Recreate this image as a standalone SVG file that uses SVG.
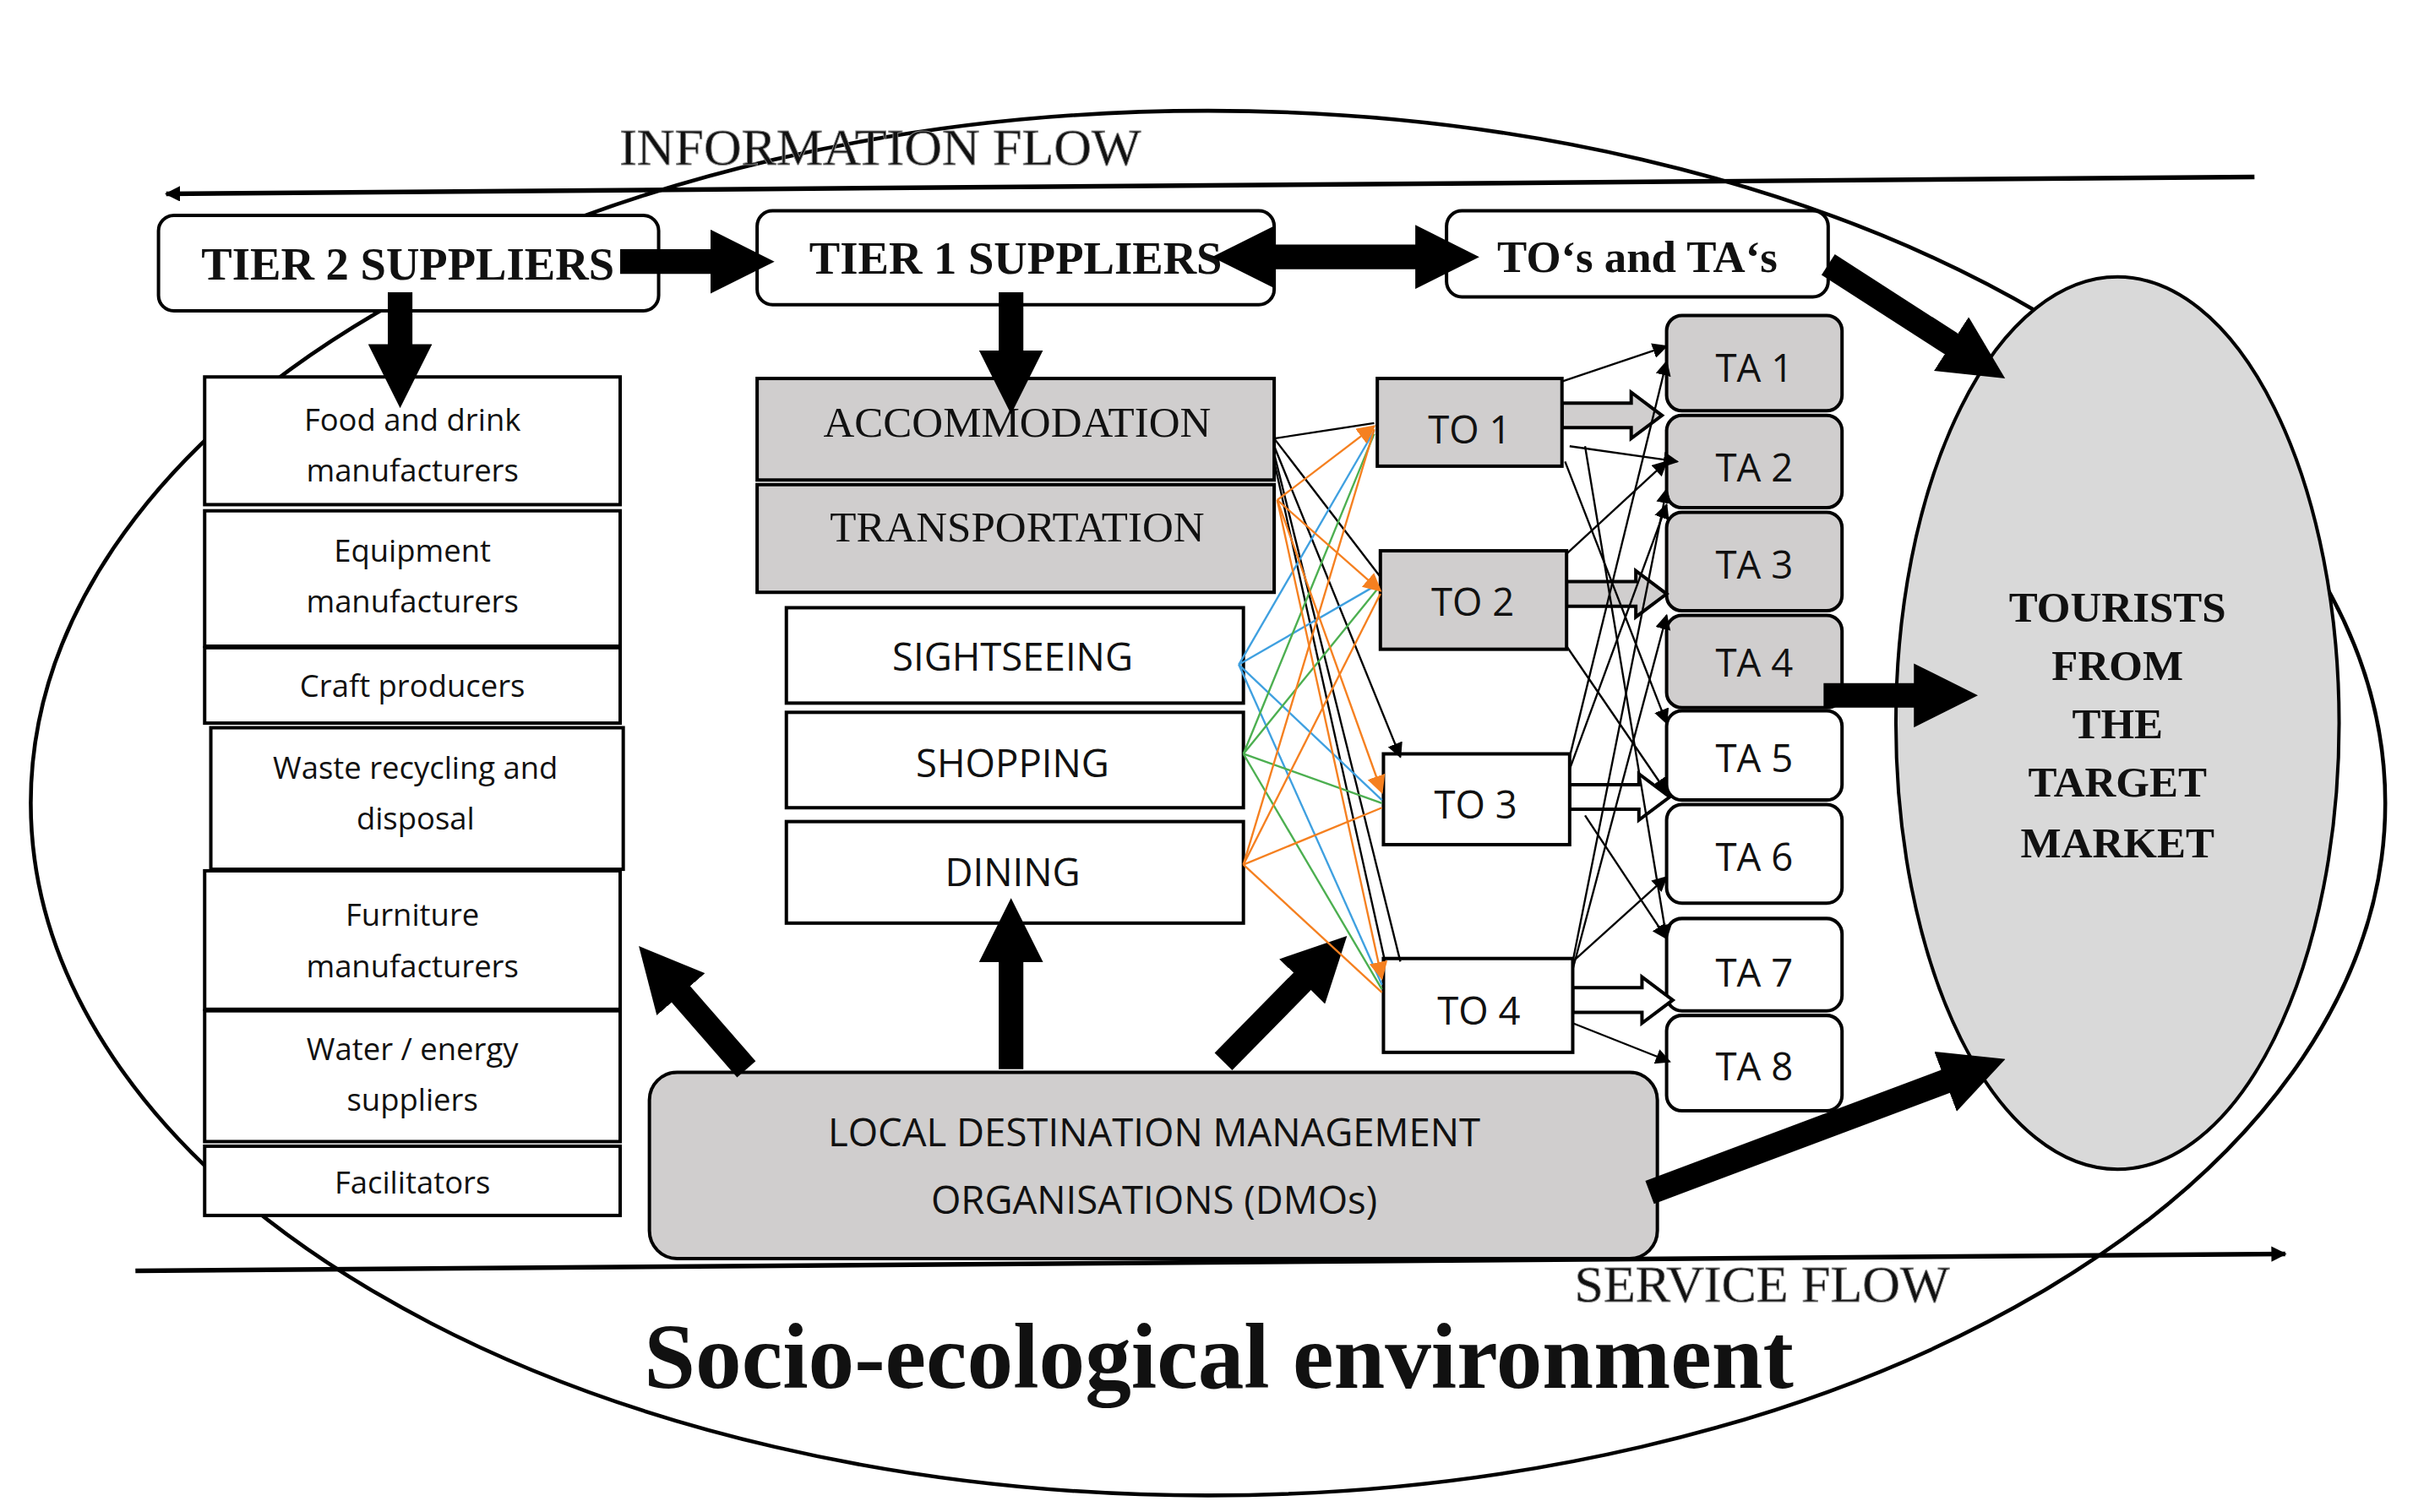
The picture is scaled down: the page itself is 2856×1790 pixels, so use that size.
<svg xmlns="http://www.w3.org/2000/svg" width="2856" height="1790" viewBox="0 0 2856 1790">
<defs>
<style>
.b{fill:#fff;stroke:#000;stroke-width:2.2}
.g{fill:#d0cece;stroke:#000;stroke-width:2.2}
.s{font-family:"Open Sans","DejaVu Sans",sans-serif;text-anchor:middle;fill:#111}
.r{font-family:"Liberation Serif",serif;text-anchor:middle;fill:#111}
.k{stroke:#000;stroke-width:1.3;fill:none}
.bl{stroke:#3fa0e0;stroke-width:1.3;fill:none}
.gr{stroke:#4caf50;stroke-width:1.3;fill:none}
.or{stroke:#f58020;stroke-width:1.3;fill:none}
.T{stroke:#000;stroke-width:16;fill:none}
</style>
<marker id="a" viewBox="0 0 10 10" refX="9" refY="5" markerWidth="10" markerHeight="10" markerUnits="userSpaceOnUse" orient="auto"><path d="M0,0L10,5L0,10z" fill="#000"/></marker>
<marker id="ao" viewBox="0 0 10 10" refX="9" refY="5" markerWidth="12" markerHeight="12" markerUnits="userSpaceOnUse" orient="auto"><path d="M0,0L10,5L0,10z" fill="#f58020"/></marker>
<marker id="A" viewBox="0 0 10 10" refX="2" refY="5" markerWidth="2.6" markerHeight="2.6" orient="auto"><path d="M0,0L10,5L0,10z" fill="#000"/></marker>
<marker id="S" viewBox="0 0 10 10" refX="1" refY="5" markerWidth="2.6" markerHeight="2.6" orient="auto-start-reverse"><path d="M0,0L10,5L0,10z" fill="#000"/></marker>
</defs>
<rect width="2856" height="1790" fill="#fff"/>
<g transform="scale(1.8214)">
<g id="environment">
<ellipse cx="785" cy="522" rx="765" ry="450" fill="none" stroke="#000" stroke-width="2.5"/>
<text x="792" y="902" class="r" font-size="60" font-weight="bold">Socio-ecological environment</text>
</g>
<g id="flows">
<line x1="1465" y1="115" x2="108" y2="126" stroke="#000" stroke-width="3" marker-end="url(#a)"/>
<text x="572" y="107" class="r" font-size="34" fill="#555" stroke="#888" stroke-width="0.5">INFORMATION FLOW</text>
<line x1="88" y1="826" x2="1485" y2="815" stroke="#000" stroke-width="3" marker-end="url(#a)"/>
<text x="1145" y="846" class="r" font-size="34" fill="#555" stroke="#888" stroke-width="0.5">SERVICE FLOW</text>
</g>
<g id="tourists">
<ellipse cx="1376" cy="470" rx="144" ry="290" fill="#d9d9d9" stroke="#000" stroke-width="2.2"/>
<text class="r" font-size="28" font-weight="bold"><tspan x="1376" y="404">TOURISTS</tspan><tspan x="1376" y="442">FROM</tspan><tspan x="1376" y="480">THE</tspan><tspan x="1376" y="518">TARGET</tspan><tspan x="1376" y="557">MARKET</tspan></text>
</g>
<g id="tier2"><rect x="103" y="140" width="325" height="62" rx="10" class="b"/><text x="265" y="182" class="r" font-size="30" font-weight="bold">TIER 2 SUPPLIERS</text></g>
<g id="tier1"><rect x="492" y="137" width="336" height="61" rx="10" class="b"/><text x="660" y="178" class="r" font-size="30" font-weight="bold">TIER 1 SUPPLIERS</text></g>
<g id="tos"><rect x="940" y="137" width="248" height="56" rx="10" class="b"/><text x="1064" y="177" class="r" font-size="29" font-weight="bold">TO‘s and TA‘s</text></g>
<g id="t2list" class="s" font-size="20">
<rect x="133" y="245" width="270" height="83" class="b"/><text x="268" y="280">Food and drink</text><text x="268" y="313">manufacturers</text>
<rect x="133" y="332" width="270" height="88" class="b"/><text x="268" y="365">Equipment</text><text x="268" y="398">manufacturers</text>
<rect x="133" y="421" width="270" height="49" class="b"/><text x="268" y="453">Craft producers</text>
<rect x="137" y="473" width="268" height="92" class="b"/><text x="270" y="506">Waste recycling and</text><text x="270" y="539">disposal</text>
<rect x="133" y="566" width="270" height="90" class="b"/><text x="268" y="602">Furniture</text><text x="268" y="635">manufacturers</text>
<rect x="133" y="657" width="270" height="85" class="b"/><text x="268" y="689">Water / energy</text><text x="268" y="722">suppliers</text>
<rect x="133" y="745" width="270" height="45" class="b"/><text x="268" y="776">Facilitators</text>
</g>
<g id="t1list">
<rect x="492" y="246" width="336" height="66" class="g"/><text x="661" y="284" class="r" font-size="28">ACCOMMODATION</text>
<rect x="492" y="315" width="336" height="70" class="g"/><text x="661" y="352" class="r" font-size="28">TRANSPORTATION</text>
<rect x="511" y="395" width="297" height="62" class="b"/><text x="658" y="436" class="s" font-size="25">SIGHTSEEING</text>
<rect x="511" y="463" width="297" height="62" class="b"/><text x="658" y="505" class="s" font-size="25">SHOPPING</text>
<rect x="511" y="534" width="297" height="66" class="b"/><text x="658" y="576" class="s" font-size="25">DINING</text>
</g>
<g id="dmo"><rect x="422" y="697" width="655" height="121" rx="18" class="g"/><text x="750" y="745" class="s" font-size="25">LOCAL DESTINATION MANAGEMENT</text><text x="750" y="789" class="s" font-size="25">ORGANISATIONS (DMOs)</text></g>
<g id="ta" class="s" font-size="25">
<rect x="1083" y="205" width="114" height="62" rx="10" class="g"/><text x="1140" y="248">TA 1</text>
<rect x="1083" y="270" width="114" height="60" rx="10" class="g"/><text x="1140" y="313">TA 2</text>
<rect x="1083" y="333" width="114" height="64" rx="10" class="g"/><text x="1140" y="376">TA 3</text>
<rect x="1083" y="400" width="114" height="60" rx="10" class="g"/><text x="1140" y="440">TA 4</text>
<rect x="1083" y="462" width="114" height="58" rx="10" class="b"/><text x="1140" y="502">TA 5</text>
<rect x="1083" y="523" width="114" height="64" rx="10" class="b"/><text x="1140" y="566">TA 6</text>
<rect x="1083" y="597" width="114" height="60" rx="10" class="b"/><text x="1140" y="641">TA 7</text>
<rect x="1083" y="660" width="114" height="62" rx="10" class="b"/><text x="1140" y="702">TA 8</text>
</g>
<g id="to" class="s" font-size="25">
<path d="M1015,262h45v-7l20,15l-20,15v-7h-45z" class="g"/>
<rect x="895" y="246" width="120" height="57" class="g"/><text x="955" y="288">TO 1</text>
<path d="M1018,378h45v-7l20,15l-20,15v-7h-45z" class="g"/>
<rect x="897" y="358" width="121" height="64" class="g"/><text x="957" y="400">TO 2</text>
<path d="M1020,510h45v-7l20,15l-20,15v-7h-45z" class="b"/>
<rect x="899" y="490" width="121" height="59" class="b"/><text x="959" y="532">TO 3</text>
<path d="M1022,642h45v-7l20,15l-20,15v-7h-45z" class="b"/>
<rect x="899" y="623" width="123" height="61" class="b"/><text x="961" y="666">TO 4</text>
</g>
<g id="connectors">
<line x1="403" y1="170" x2="470" y2="170" class="T" marker-end="url(#A)"/>
<line x1="825" y1="167" x2="928" y2="167" class="T" marker-start="url(#S)" marker-end="url(#A)"/>
<line x1="1188" y1="172" x2="1275" y2="228" class="T" marker-end="url(#A)"/>
<line x1="260" y1="190" x2="260" y2="232" class="T" marker-end="url(#A)"/>
<line x1="657" y1="190" x2="657" y2="236" class="T" marker-end="url(#A)"/>
<line x1="1185" y1="452" x2="1252" y2="452" class="T" marker-end="url(#A)"/>
<line x1="485" y1="695" x2="437" y2="640" class="T" marker-end="url(#A)"/>
<line x1="657" y1="695" x2="657" y2="617" class="T" marker-end="url(#A)"/>
<line x1="795" y1="690" x2="852" y2="632" class="T" marker-end="url(#A)"/>
<line x1="1072" y1="775" x2="1272" y2="700" class="T" marker-end="url(#A)"/>
<g class="k">
<line x1="828" y1="285" x2="893" y2="275"/><line x1="828" y1="285" x2="897" y2="375"/><line x1="828" y1="290" x2="910" y2="492" marker-end="url(#a)"/><line x1="828" y1="295" x2="910" y2="625"/><line x1="828" y1="300" x2="900" y2="625"/>
</g>
<g class="bl"><line x1="805" y1="432" x2="893" y2="280"/><line x1="805" y1="432" x2="895" y2="380"/><line x1="805" y1="432" x2="898" y2="520"/><line x1="805" y1="432" x2="898" y2="640"/></g>
<g class="gr"><line x1="808" y1="490" x2="893" y2="282"/><line x1="808" y1="490" x2="895" y2="383"/><line x1="808" y1="490" x2="898" y2="522"/><line x1="808" y1="490" x2="898" y2="643"/></g>
<g class="or">
<line x1="830" y1="325" x2="893" y2="277" marker-end="url(#ao)"/><line x1="830" y1="325" x2="897" y2="384" marker-end="url(#ao)"/><line x1="830" y1="325" x2="898" y2="515" marker-end="url(#ao)"/><line x1="830" y1="325" x2="898" y2="636" marker-end="url(#ao)"/>
<line x1="808" y1="562" x2="893" y2="279"/><line x1="808" y1="562" x2="897" y2="386"/><line x1="808" y1="562" x2="898" y2="525"/><line x1="808" y1="562" x2="898" y2="645"/>
</g>
<g class="k" marker-end="url(#a)">
<line x1="1015" y1="248" x2="1083" y2="225"/><line x1="1020" y1="290" x2="1090" y2="300"/><line x1="1017" y1="300" x2="1083" y2="470"/><line x1="1030" y1="290" x2="1083" y2="610"/>
<line x1="1018" y1="360" x2="1083" y2="300"/><line x1="1018" y1="420" x2="1083" y2="515"/>
<line x1="1020" y1="492" x2="1083" y2="235"/><line x1="1030" y1="530" x2="1083" y2="610"/><line x1="1020" y1="500" x2="1083" y2="328"/>
<line x1="1022" y1="625" x2="1083" y2="318"/><line x1="1022" y1="630" x2="1083" y2="400"/><line x1="1022" y1="625" x2="1083" y2="570"/><line x1="1022" y1="665" x2="1085" y2="690"/>
</g>
</g>
</g>
</svg>
